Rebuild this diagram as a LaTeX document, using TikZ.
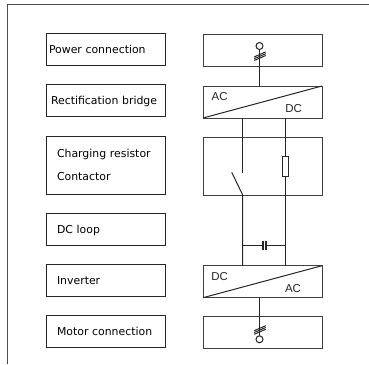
\documentclass[tikz,border=0pt]{standalone}
\usepackage{fontspec}
\setmainfont{DejaVu Sans}
\newfontfamily\unitfont{Liberation Sans}
\begin{document}
\begin{tikzpicture}[x=1pt, y=-1pt, line width=1pt,
    wire/.style = {draw=black!85},
    namebox/.style = {shape=rectangle, draw=black!85, inner ysep=0pt, outer sep=0pt, minimum height=32pt,
        inner xsep=#1, text width={119pt-2*#1}, align=left, font=\fontsize{10.9pt}{13pt}\selectfont},
    namebox/.default = 11pt,
    oneline/.style = {text height=9.5pt, text depth=1.5pt},
    unitbox/.style = {shape=rectangle, draw=black!75, outer sep=0pt, inner sep=0pt, minimum width=119pt, minimum height=32pt},
    unitlabel/.style = {inner sep=0pt, font=\unitfont\fontsize{11.5pt}{13pt}\selectfont, text=black!85},
    terminal/.style = {shape=circle, draw=black!85, fill=white, inner sep=0pt, outer sep=0pt, minimum size=7pt},
    resistor/.style = {shape=rectangle, draw=black!85, fill=white, inner sep=0pt, outer sep=0pt, minimum width=6.5pt, minimum height=20pt}]
    \useasboundingbox (0,0) rectangle (369,364);
    \draw[black!70, line width=1.2pt] (369,4.5) -- (7.5,4.5) -- (7.5,364);

    % names on the left
    \node[namebox=3pt, oneline] (power) at (105.5,49) {Power connection};
    \node[namebox=5pt, oneline] (rectifier) at (105.5,100.5) {Rectification bridge};
    \node[namebox, minimum height=58pt] (charging) at (105.5,165) {Charging resistor\\[10pt]Contactor};
    \node[namebox, oneline] (dcloop) at (105.5,229) {DC loop};
    \node[namebox, oneline] (inverter) at (105.5,280) {Inverter};
    \node[namebox, oneline] (motor) at (105.5,331.5) {Motor connection};

    % units on the right
    \node[unitbox] (powerunit) at (262.5,50.7) {};
    \node[unitbox] (bridgeunit) at (262.5,102) {};
    \node[unitbox, minimum height=58pt] (chargeunit) at (262.5,166) {};
    \node[unitbox] (inverterunit) at (262.5,281.7) {};
    \node[unitbox] (motorunit) at (262.5,332.7) {};

    \draw[wire] (bridgeunit.south west) -- (bridgeunit.north east);
    \draw[wire] (inverterunit.south west) -- (inverterunit.north east);
    \node[unitlabel] (bridgeac) at (219.7,96.7) {AC};
    \node[unitlabel] (bridgedc) at (293.7,109) {DC};
    \node[unitlabel] (inverterdc) at (219.7,276.7) {DC};
    \node[unitlabel] (inverterac) at (293,288.7) {AC};

    % wiring
    \node[terminal] (powerin) at (259.5,46) {};
    \node[terminal] (motorout) at (259.5,339.3) {};
    \node[resistor] (chargeres) at (285.5,166) {};
    \coordinate (bridgein) at (bridgeunit.north -| powerin);
    \coordinate (inverterout) at (inverterunit.south -| motorout);
    \coordinate (leftrail) at (242.7,118);
    \coordinate (rightrail) at (285.5,118);
    \coordinate (leftend) at (242.7,265.7);
    \coordinate (rightend) at (285.5,265.7);
    \coordinate (contactup) at (242.7,173.3);
    \coordinate (contactfree) at (231.7,172.3);
    \coordinate (contactdown) at (242.7,195);
    \coordinate (capleft) at (242.7,245.7);
    \coordinate (capright) at (285.5,245.7);
    \coordinate (plateone) at (262.8,245.7);
    \coordinate (platetwo) at (265.9,245.7);

    \draw[wire] (powerin) -- (bridgein);
    \draw[wire] (inverterout) -- (motorout);
    \draw[wire] (leftrail) -- (contactup);
    \draw[wire] (contactfree) -- (contactdown) -- (leftend);
    \draw[wire] (rightrail) -- (chargeres);
    \draw[wire] (chargeres) -- (rightend);
    \draw[wire] (capleft) -- (plateone);
    \draw[wire] (platetwo) -- (capright);
    \draw[wire, line width=2pt] ([yshift=-4.5pt]plateone) -- ([yshift=4.5pt]plateone);
    \draw[wire, line width=2pt] ([yshift=-4.5pt]platetwo) -- ([yshift=4.5pt]platetwo);

    % phase marks
    \foreach \n in {-1.8,0,1.8} {
      \draw[wire, line width=1pt] (254.2,58.7+\n) -- (265.7,53.7+\n);
      \draw[wire, line width=1pt] (254.2,332.5+\n) -- (265.7,327.5+\n);
    }
\end{tikzpicture}
\end{document}
